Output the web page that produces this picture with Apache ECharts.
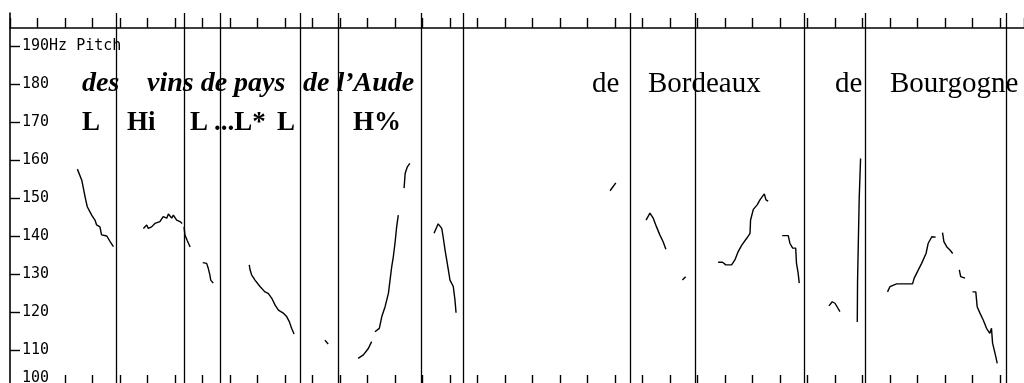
<!DOCTYPE html>
<html>
<head>
<meta charset="utf-8">
<script src="https://cdn.jsdelivr.net/npm/echarts@6/dist/echarts.min.js"></script>
<style>html,body{margin:0;padding:0;background:#fff;}#c{width:1024px;height:383px;}</style>
</head>
<body>
<div id="c"></div>
<script>
// time in ms, pitch in Hz
const yTicks = [100, 110, 120, 130, 140, 150, 160, 170, 180, 190];
const boundaries = [385, 633, 764, 1057, 1194, 1494, 1648, 2254, 2491, 2888, 3111, 3621];

const seg01 = [[245,157.6],[261,154.7],[273,150.3],[281,147.7],[297,145.5],[309,144.2],[315,142.9],[327,142.4],[333,140.3],[352,140.0],[364,138.5],[376,137.2]];
const seg02 = [[485,142.0],[497,142.9],[503,142.0],[515,142.4],[527,143.3],[545,143.8],[557,145.1],[570,144.7],[576,145.8],[588,144.7],[594,145.5],[606,144.2],[618,143.8],[626,143.3]];
const seg03 = [[633,142.4],[636,140.3],[644,138.9],[655,137.1]];
const seg04 = [[701,133.0],[715,132.8],[721,131.5],[727,129.7],[730,128.4],[739,127.6]];
const seg05 = [[870,132.4],[873,131.1],[879,129.7],[891,128.4],[909,126.7],[927,125.3],[939,124.9],[952,123.6],[964,121.8],[976,120.5],[994,119.7],[1006,118.8],[1016,117.4],[1024,115.7],[1033,114.2]];
const seg06 = [[1145,112.6],[1157,111.6]];
const seg07 = [[1266,107.8],[1285,108.7],[1303,110.4],[1315,112.2]];
const seg08 = [[1327,114.8],[1343,115.7],[1352,118.8],[1364,121.4],[1376,124.9],[1382,128.4],[1388,131.9],[1394,134.6],[1400,138.1],[1406,142.4],[1412,145.5]];
const seg09 = [[1433,152.6],[1437,156.5],[1445,158.2],[1454,159.1]];
const seg10 = [[1542,140.7],[1557,143.2],[1570,142.0],[1575,139.8],[1582,136.3],[1588,133.7],[1594,131.1],[1600,128.4],[1612,126.7],[1618,123.2],[1622,119.8]];
const seg11 = [[2182,151.9],[2203,154.0]];
const seg12 = [[2313,144.2],[2327,146.0],[2339,144.7],[2351,142.4],[2363,140.3],[2375,138.5],[2385,136.5]];
const seg13 = [[2445,128.4],[2457,129.3]];
const seg14 = [[2575,133.1],[2591,133.1],[2603,132.4],[2624,132.4],[2636,133.7],[2648,135.9],[2661,137.6],[2679,139.4],[2691,140.7],[2693,144.2],[2703,147.0],[2717,148.2],[2727,149.5],[2743,151.1],[2749,149.5],[2757,149.2]];
const seg15 = [[2808,140.1],[2830,140.1],[2836,138.1],[2846,136.8],[2857,136.8],[2860,132.8],[2866,130.2],[2870,127.6]];
const seg16 = [[2978,121.6],[2990,122.7],[3000,122.3],[3018,120.1]];
const seg17 = [[3081,117.4],[3082,128.0],[3088,149.9],[3093,160.4]];
const seg18 = [[3191,125.3],[3200,126.7],[3224,127.4],[3282,127.4],[3288,128.9],[3303,131.1],[3315,132.8],[3331,135.4],[3339,138.1],[3352,139.8],[3357,140.0],[3366,139.7]];
const seg19 = [[3391,140.9],[3396,138.5],[3406,137.2],[3418,136.3],[3428,135.4]];
const seg20 = [[3452,131.1],[3457,129.3],[3473,128.9]];
const seg21 = [[3500,125.3],[3512,125.3],[3517,121.4],[3527,119.7],[3539,117.9],[3551,115.7],[3563,114.4],[3569,115.7],[3573,111.8],[3582,109.1],[3590,106.5]];

const contours = [seg01,seg02,seg03,seg04,seg05,seg06,seg07,seg08,seg09,seg10,seg11,seg12,seg13,seg14,seg15,seg16,seg17,seg18,seg19,seg20,seg21];

const wordsRow1 = ['des','vins de pays','de l\u2019Aude','de','Bordeaux','de','Bourgogne'];
const tonesRow2 = ['L','Hi','L','...L*','L','H%'];

// bottom ticks (the first two are hidden behind the "100" label in the original)
const bottomTicks = [];
for (let t = 200; t <= 3600; t += 100) bottomTicks.push(t);

const chart = echarts.init(document.getElementById('c'), null, {renderer:'canvas'});

const LEFT = 10, TOP = 13;
const pxPerMs = 27.5/100;
const xMax = (1024 - LEFT) / pxPerMs;

const series = contours.map(s => ({
  type:'line', data:s, xAxisIndex:0, yAxisIndex:0, showSymbol:false, symbol:'none',
  lineStyle:{color:'#000', width:1.4}, animation:false, silent:true, clip:false
}));
series.push({
  type:'line', data:[], xAxisIndex:0, yAxisIndex:0, silent:true, animation:false,
  markLine:{silent:true, symbol:['none','none'], label:{show:false},
    lineStyle:{color:'#000', width:1.3, type:'solid'},
    data: boundaries.map(b => ({xAxis:b}))}
});

const serifBI = 'bold italic 28px "Liberation Serif"';
const serifR = '29px "Liberation Serif"';
const serifB = 'bold 27px "Liberation Serif"';
const row1X = [82,147,303,592,648,835,890];
const row1Font = [serifBI,serifBI,serifBI,serifR,serifR,serifR,serifR];
const row2X = [82,127,190,214,277,353];
const graphics = [];
wordsRow1.forEach((w,i)=>graphics.push({type:'text', x:row1X[i], y:84, silent:true,
  style:{text:w, font:row1Font[i], fill:'#000', align:'left', verticalAlign:'middle'}}));
tonesRow2.forEach((w,i)=>graphics.push({type:'text', x:row2X[i], y:123, silent:true,
  style:{text:w, font:serifB, fill:'#000', align:'left', verticalAlign:'middle'}}));

const labelFont = {fontFamily:'"DejaVu Sans Mono"', fontSize:15, color:'#000'};

chart.setOption({
  animation:false,
  backgroundColor:'#fff',
  grid:{left:LEFT, top:TOP, right:0, bottom:-5, containLabel:false, outerBoundsMode:'none'},
  xAxis:[{
    type:'value', position:'top', min:0, max:xMax, interval:100, offset:-15,
    axisLine:{show:true, lineStyle:{color:'#000', width:1.6}},
    axisTick:{show:true, inside:false, length:10, lineStyle:{color:'#000', width:1.4}},
    axisLabel:{show:false}, splitLine:{show:false}
  },{
    type:'value', position:'bottom', min:0, max:xMax, interval:100,
    axisLine:{show:false},
    axisTick:{show:true, inside:true, length:13, customValues:bottomTicks, lineStyle:{color:'#000', width:1.4}},
    axisLabel:{show:false}, splitLine:{show:false}
  }],
  yAxis:{
    type:'value', min:100, max:100 + (383 + 5 - TOP) / 3.8, interval:10,
    axisLine:{show:true, lineStyle:{color:'#000', width:1.6}},
    axisTick:{show:true, inside:true, length:10, customValues:yTicks, lineStyle:{color:'#000', width:1.4}},
    axisLabel:Object.assign({show:true, inside:true, margin:12, customValues:yTicks,
      formatter: v => v === 190 ? '190Hz Pitch' : (v === 100 ? '{b|100}' : String(v)),
      rich:{b:Object.assign({padding:[0,0,19,0]}, labelFont)}}, labelFont),
    splitLine:{show:false}
  },
  graphic: graphics,
  series: series
});
</script>
</body>
</html>
